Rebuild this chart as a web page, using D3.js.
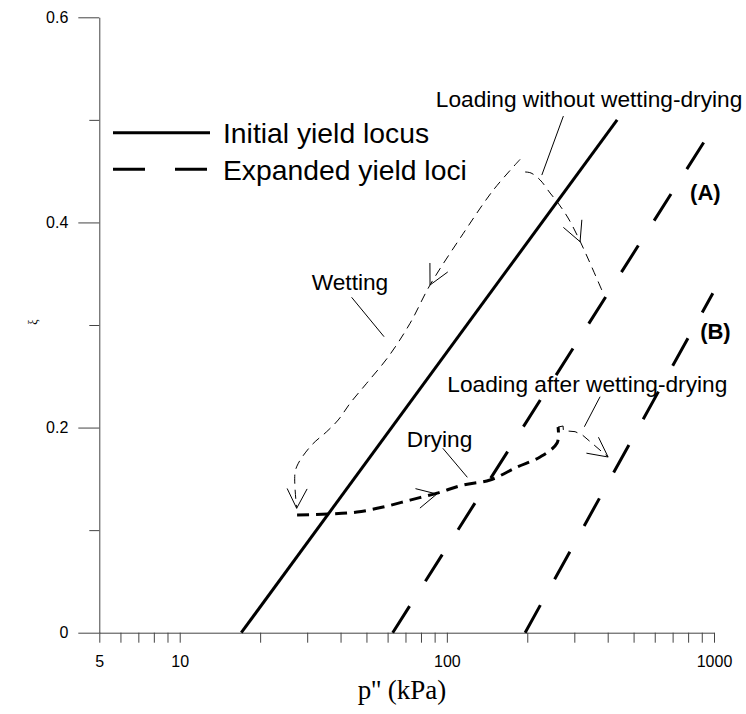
<!DOCTYPE html>
<html><head><meta charset="utf-8">
<script src="https://cdn.jsdelivr.net/npm/d3@7"></script>
<style>body{margin:0;background:#fff} svg{display:block}</style>
</head><body>
<svg id="c" width="746" height="714"></svg>
<script>
// ---------- data ----------
const xTickValues = [5,6,7,8,9,10,20,30,40,50,60,70,80,90,100,200,300,400,500,600,700,800,900,1000];
const xLabelValues = [5,10,100,1000];
const xLabelTexts = ["5","10","100","1000"];
const yMajorTicks = [0,0.2,0.4,0.6];
const yMajorLabels = ["0","0.2","0.4","0.6"];
const yMinorTicks = [0.1,0.3,0.5];

const initialLocus = [[17,0],[434,0.5]];
const locusA = [[62.7,0],[934,0.4816]];
const locusB = [[196.3,0],[990,0.331]];

const wettingPath = [[188.0,0.4615],[149.3,0.4316],[115.3,0.3894],[86.5,0.3390],[72.8,0.3016],[60.4,0.2691],[50.1,0.2432],[43.4,0.2236],[39.2,0.2074],[35.5,0.1960],[31.2,0.1830],[27.8,0.1652],[27.0,0.1554],[27.4,0.1213]];
const loadingWithoutPath = [[196.3,0.4492],[206.6,0.4482],[223.4,0.4414],[243.4,0.4287],[260.8,0.4189],[284.4,0.4043],[309.8,0.3858],[329.1,0.3712],[352.7,0.3536],[384.4,0.3312]];
const dryingPath = [[27.5,0.1148],[36.5,0.1157],[46.1,0.1176],[57.7,0.1225],[72.8,0.1293],[91.9,0.1361],[115.0,0.1440],[145.1,0.1489],[183.2,0.1615],[223.4,0.1713],[258.6,0.1849],[260.8,0.2005]];
const loadingAfterPath = [[260.8,0.2005],[272.3,0.2015],[273,0.197],[301.9,0.1960],[320.8,0.1930],[401.4,0.1713]];

// arrows: [tipX, tipY, backX, backY]
const arrows = [[86.5,0.339,93.5,0.3565],[315.3,0.3812,295.5,0.399],[27.4,0.1213,27.5,0.139],[91.7,0.1352,76.7,0.1306],[401.4,0.1713,348.7,0.1833]];

// annotations: [text, x, y, bold]
const annotations = [["Loading without wetting-drying",90.9,0.5122,false],["Wetting",31.2,0.3341,false],["Loading after wetting-drying",100.4,0.2350,false],["Drying",70.8,0.1808,false],["(A)",813.6,0.4219,true],["(B)",887.4,0.2863,true]];
// leader lines: [x1,y1,x2,y2]
const leaders = [[273.0,0.5037,226.7,0.4462],[44.0,0.3270,58.2,0.2886],[374.6,0.2301,327.2,0.2008],[96.6,0.1798,119.3,0.1515]];

const legendLabels = ["Initial yield locus","Expanded yield loci"];

// ---------- drawing ----------
const svg = d3.select("#c");
const x = d3.scaleLog().domain([5,1000]).range([99.3,714]);
const y = d3.scaleLinear().domain([0,0.6]).range([632.7,17.3]);
const axisColor = "#444";
const sans = "'Liberation Sans', Arial, sans-serif";

// x axis
const xAxis = d3.axisBottom(x).tickValues(xTickValues).tickSize(10).tickSizeOuter(0).tickPadding(13)
  .tickFormat(d => { const i = xLabelValues.indexOf(d); return i >= 0 ? xLabelTexts[i] : ""; });
const gx = svg.append("g").attr("transform", `translate(0,${y(0)})`).call(xAxis);
gx.selectAll("path,line").attr("stroke", axisColor);
gx.selectAll("text").attr("font-family",sans).attr("font-size",16).attr("fill","#000");

// y axis major
const yAxis = d3.axisLeft(y).tickValues(yMajorTicks).tickSize(21).tickSizeOuter(0).tickPadding(10)
  .tickFormat((d,i) => yMajorLabels[i]);
const gy = svg.append("g").attr("transform", `translate(${x(5)},0)`).call(yAxis);
gy.selectAll("path,line").attr("stroke", axisColor);
gy.selectAll("text").attr("font-family",sans).attr("font-size",16).attr("fill","#000");
const gy2 = svg.append("g").attr("transform", `translate(${x(5)},0)`)
  .call(d3.axisLeft(y).tickValues(yMinorTicks).tickSize(10).tickSizeOuter(0).tickFormat(""));
gy2.select(".domain").remove();
gy2.selectAll("line").attr("stroke", axisColor);

// axis titles
svg.append("text").attr("x", 402).attr("y", 699).attr("text-anchor","middle")
  .attr("font-family","'Liberation Serif', 'Times New Roman', serif").attr("font-size",27).text("p'' (kPa)");
svg.append("text").attr("transform","translate(37,322) rotate(-90)").attr("text-anchor","middle")
  .attr("font-family","'Liberation Serif', serif").attr("font-size",12).text("ξ");

const line = d3.line().x(d => x(d[0])).y(d => y(d[1]));
const smooth = d3.line().x(d => x(d[0])).y(d => y(d[1])).curve(d3.curveCatmullRom.alpha(0.5));

// yield loci
svg.append("path").attr("d", line(initialLocus)).attr("fill","none").attr("stroke","#000").attr("stroke-width",3);
[locusA, locusB].forEach(l => {
  svg.append("path").attr("d", line(l)).attr("fill","none").attr("stroke","#000").attr("stroke-width",3)
    .attr("stroke-dasharray","31.5,29.5");
});

// stress paths
svg.append("path").attr("d", smooth(wettingPath)).attr("fill","none").attr("stroke","#000").attr("stroke-width",1).attr("stroke-dasharray","9,6");
svg.append("path").attr("d", smooth(loadingWithoutPath)).attr("fill","none").attr("stroke","#000").attr("stroke-width",1).attr("stroke-dasharray","9,6");
svg.append("path").attr("d", smooth(dryingPath)).attr("fill","none").attr("stroke","#000").attr("stroke-width",3).attr("stroke-dasharray","12,7");
svg.append("path").attr("d", line(loadingAfterPath)).attr("fill","none").attr("stroke","#000").attr("stroke-width",1).attr("stroke-dasharray","9,6");

// arrowheads
arrows.forEach(a => {
  const tx = x(a[0]), ty = y(a[1]), bx = x(a[2]), by = y(a[3]);
  const ang = Math.atan2(ty - by, tx - bx), L = 22, h = 27 * Math.PI / 180;
  const pts = [[tx - L*Math.cos(ang-h), ty - L*Math.sin(ang-h)],[tx,ty],[tx - L*Math.cos(ang+h), ty - L*Math.sin(ang+h)]];
  svg.append("path").attr("d", d3.line()(pts)).attr("fill","none").attr("stroke","#000").attr("stroke-width",1);
});

// leaders
leaders.forEach(l => {
  svg.append("line").attr("x1",x(l[0])).attr("y1",y(l[1])).attr("x2",x(l[2])).attr("y2",y(l[3]))
    .attr("stroke","#000").attr("stroke-width",1);
});

// annotations
annotations.forEach(a => {
  svg.append("text").attr("x", x(a[1])).attr("y", y(a[2]))
    .attr("font-family",sans).attr("font-size", a[3] ? 22 : 22.7)
    .attr("font-weight", a[3] ? "bold" : "normal").text(a[0]);
});

// legend
const lg = svg.append("g");
lg.append("line").attr("x1",113).attr("x2",210).attr("y1",132.7).attr("y2",132.7).attr("stroke","#000").attr("stroke-width",3);
lg.append("line").attr("x1",113).attr("x2",207).attr("y1",169.3).attr("y2",169.3).attr("stroke","#000").attr("stroke-width",3).attr("stroke-dasharray","32,30");
lg.selectAll("text").data(legendLabels).enter().append("text")
  .attr("x",223).attr("y",(d,i) => 143 + i*36.6)
  .attr("font-family",sans).attr("font-size",28.3).text(d => d);
</script>
</body></html>
